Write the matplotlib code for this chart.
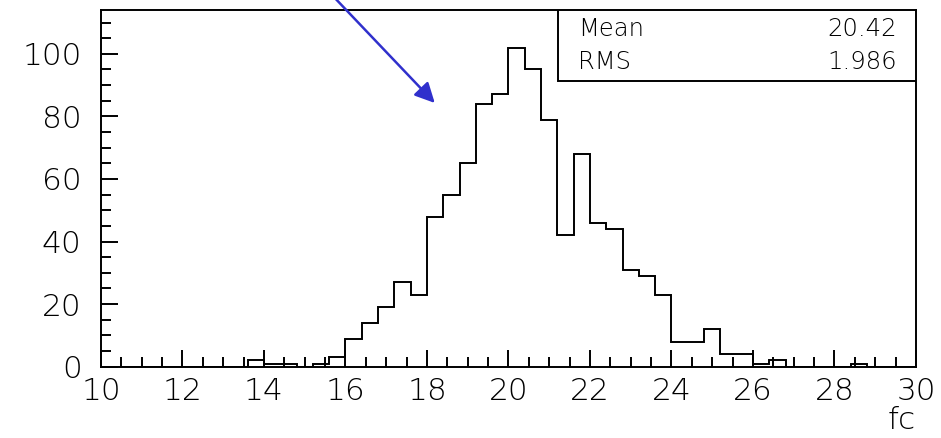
import numpy as np
import matplotlib
matplotlib.use('Agg')
import matplotlib.pyplot as plt
from matplotlib.patches import Rectangle

# Data: 50 bins of width 0.4 from 10 to 30
x_min, x_max, n_bins = 10, 30, 50
counts = [0, 0, 0, 0, 0, 0, 0, 0, 0,
          2, 1, 1, 0, 1, 3, 9, 14, 19, 27, 23,
          48, 55, 65, 84, 87, 102, 95, 79, 42, 68,
          46, 44, 31, 29, 23, 8, 8, 12, 4, 4,
          1, 2, 0, 0, 0, 0, 1, 0, 0, 0]
stat_names = ['Mean', 'RMS']
stat_values = ['20.42', '1.986']
x_label = 'fc'

plt.rcParams['font.family'] = ['DejaVu Sans']

fig = plt.figure(figsize=(9.41, 4.38), dpi=100)
ax = fig.add_axes([0.1073, 0.1628, 0.8661, 0.8144])

edges = np.linspace(x_min, x_max, n_bins + 1)
ax.stairs(counts, edges, color='black', lw=1.4)

ax.set_xlim(x_min, x_max)
ax.set_ylim(0, 114)
ax.set_xticks(np.arange(10, 31, 2))
ax.set_xticks(np.arange(10, 30.01, 0.5), minor=True)
ax.set_yticks(np.arange(0, 101, 20))
ax.set_yticks(np.arange(0, 111, 5), minor=True)

ax.tick_params(which='both', direction='in', top=False, right=False, width=1.4)
ax.tick_params(which='major', length=12)
ax.tick_params(which='minor', length=7.5)
ax.tick_params(axis='x', which='major', pad=7.5, labelsize=22.5)
ax.tick_params(axis='y', which='major', pad=14, labelsize=22.5)
for lbl in ax.get_xticklabels() + ax.get_yticklabels():
    lbl.set_fontweight('light')
for s in ax.spines.values():
    s.set_linewidth(1.4)

ax.set_xlabel(x_label, loc='right', fontsize=22.5, fontweight='light', labelpad=0)

# stats box
ax.add_patch(Rectangle((0.5607, 0.801), 0.4393, 0.199, transform=ax.transAxes,
                       facecolor='white', edgecolor='black', lw=1.4, zorder=5))
for name, val, yy in zip(stat_names, stat_values, [0.947, 0.854]):
    ax.text(0.585, yy, name, transform=ax.transAxes, fontsize=17.5, fontweight='light',
            ha='left', va='center', zorder=6)
    ax.text(0.977, yy, val, transform=ax.transAxes, fontsize=17.5, fontweight='light',
            ha='right', va='center', zorder=6)

# blue arrow coming from above
ax.annotate('', xy=(436.7, 333), xycoords='figure pixels',
            xytext=(317.7, 458), textcoords='figure pixels',
            arrowprops=dict(arrowstyle='-|>,head_length=0.6,head_width=0.3',
                            mutation_scale=20, color='#3030cc', lw=1.8),
            annotation_clip=False)

fig.savefig('out.png', dpi=100)
